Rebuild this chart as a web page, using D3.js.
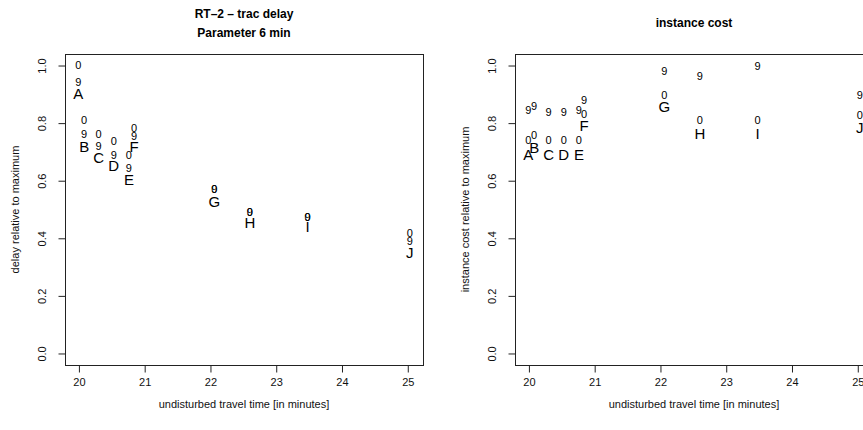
<!DOCTYPE html>
<html><head><meta charset="utf-8">
<script src="https://cdn.jsdelivr.net/npm/d3@7"></script>
<style>body{margin:0;background:#fff}svg{display:block}text{font-family:"Liberation Sans",Arial,sans-serif}</style>
</head><body><svg id="c" width="863" height="430"></svg>
<script>
const labels = ["A","B","C","D","E","F","G","H","I","J"];
const travelTime = [19.99,20.08,20.30,20.53,20.76,20.84,22.06,22.60,23.475,25.03];
// delay relative to maximum (letters = parameter 6, "9" and "0" = other parameter values)
const delay6 = [0.904,0.720,0.681,0.651,0.605,0.717,0.527,0.454,0.440,0.351];
const delay9 = [0.942,0.761,0.720,0.689,0.643,0.755,0.570,0.492,0.475,0.391];
const delay0 = [1.000,0.810,0.761,0.738,0.689,0.784,0.570,0.492,0.475,0.418];
// instance cost relative to maximum
const cost6 = [0.689,0.715,0.689,0.689,0.689,0.792,0.856,0.764,0.764,0.784];
const cost9 = [0.844,0.858,0.838,0.838,0.844,0.879,0.980,0.962,0.999,0.896];
const cost0 = [0.740,0.758,0.740,0.740,0.740,0.830,0.899,0.810,0.810,0.827];
const xTicks = [20,21,22,23,24,25];
const yTicks = [0,0.2,0.4,0.6,0.8,1.0];

const svg = d3.select("#c");
svg.append("rect").attr("width",863).attr("height",430).attr("fill","#fff");

function panel(opt){
  const g = svg.append("g");
  const [x0,x1] = d3.extent(travelTime);
  const px = (x1-x0)*0.04, py = 0.04;
  const x = d3.scaleLinear().domain([x0-px,x1+px]).range([opt.left,opt.left+358]);
  const y = d3.scaleLinear().domain([0-py,1+py]).range([365,54]);
  // box
  g.append("rect").attr("x",opt.left+0.5).attr("y",54.5).attr("width",358).attr("height",311)
    .attr("fill","none").attr("stroke","#222").attr("stroke-width",1);
  // x axis
  const xa = g.append("g").attr("transform","translate(0,365.5)")
    .call(d3.axisBottom(x).tickValues(xTicks).tickFormat(d3.format("d")).tickSize(7).tickSizeOuter(0).tickPadding(6));
  xa.select(".domain").remove();
  xa.selectAll("line").attr("stroke","#222");
  xa.selectAll("text").attr("font-size","11px").attr("fill","#111").attr("font-family","Liberation Sans, Arial, sans-serif");
  // y axis
  const ya = g.append("g").attr("transform",`translate(${opt.left+0.5},0)`)
    .call(d3.axisLeft(y).tickValues(yTicks).tickFormat(d3.format(".1f")).tickSize(7).tickSizeOuter(0));
  ya.select(".domain").remove();
  ya.selectAll("line").attr("stroke","#222");
  ya.selectAll(".tick text")
    .attr("font-size","11px").attr("fill","#111").attr("font-family","Liberation Sans, Arial, sans-serif")
    .attr("text-anchor","middle").attr("x",0).attr("y",0).attr("dy","0.35em")
    .attr("transform","translate(-23.5,0) rotate(-90)");
  // titles
  const cx = opt.left+179;
  opt.title.forEach((t,i)=>{
    g.append("text").attr("x",cx).attr("y",opt.titleY[i]).attr("dy","0.35em").attr("text-anchor","middle")
      .attr("font-weight","bold").attr("font-size","12px").attr("fill","#000").text(t);
  });
  g.append("text").attr("x",cx).attr("y",404).attr("dy","0.35em").attr("text-anchor","middle")
    .attr("font-size","11px").attr("fill","#111").text("undisturbed travel time [in minutes]");
  g.append("text").attr("transform",`translate(${opt.left-50},${y(0.5)}) rotate(-90)`).attr("dy","0.35em")
    .attr("text-anchor","middle").attr("font-size","11px").attr("fill","#111").text(opt.ylab);
  // marks
  const pts = g.append("g");
  const draw = (vals,txt,size)=>{
    pts.selectAll(null).data(vals).enter().append("text")
      .attr("x",(d,i)=>x(travelTime[i])).attr("y",d=>y(d)).attr("dy","0.36em")
      .attr("text-anchor","middle").attr("font-size",size).attr("fill","#000")
      .text((d,i)=>txt(i));
  };
  draw(opt.s0,()=> "0","11px");
  draw(opt.s9,()=> "9","11px");
  draw(opt.s6,i=>labels[i],"15px");
}
panel({left:65,title:["RT\u20132 \u2013 trac delay","Parameter 6 min"],titleY:[14,33],ylab:"delay relative to maximum",s6:delay6,s9:delay9,s0:delay0});
panel({left:515,title:["instance cost"],titleY:[23],ylab:"instance cost relative to maximum",s6:cost6,s9:cost9,s0:cost0});
</script></body></html>
